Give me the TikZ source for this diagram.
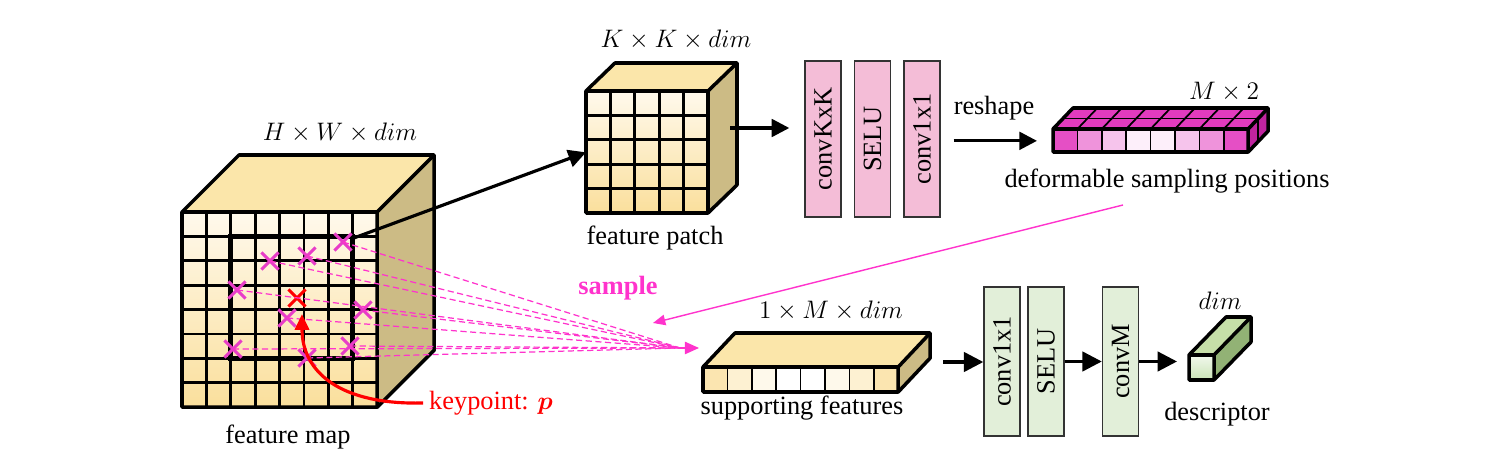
\documentclass[tikz,border=0pt]{standalone}
\usepackage{fontspec}
\setmainfont{Liberation Serif}
\usepackage{amssymb}
\usepackage{amsmath}
\usetikzlibrary{arrows.meta,shapes.misc,calc}

\definecolor{cubetop}{HTML}{FBE6AA}
\definecolor{cubeside}{HTML}{CCBB85}
\definecolor{celllight}{HTML}{FFF9EC}
\definecolor{celldark}{HTML}{FADF9C}
\definecolor{pinkblk}{HTML}{F4BDD7}
\definecolor{greenblk}{HTML}{E2EFD9}
\definecolor{mag}{HTML}{FF33CC}
\definecolor{magx}{HTML}{E83DC8}
\definecolor{magbar}{HTML}{E23BBE}
\definecolor{magside}{HTML}{C0249F}
\definecolor{desctop}{HTML}{C6DFA8}
\definecolor{descside}{HTML}{92B275}
\definecolor{descfront}{HTML}{C9E3B5}

\tikzset{
  edge/.style={line width=2pt, line join=round},
  gridline/.style={line width=1.5pt},
  bigarrow/.style={line width=1.8pt, -{Triangle[length=10pt,width=10pt]}},
  greenarrow/.style={line width=1.8pt, -{Triangle[length=11pt,width=11pt]}},
  smallarrow/.style={mag, line width=0.8pt, -{Triangle[length=7pt,width=6pt]}},
  sampleline/.style={mag, line width=0.7pt, dash pattern=on 3.5pt off 2pt},
  xmark/.style={cross out, draw=magx, line width=1.8pt, minimum size=0.28cm, inner sep=0pt},
  layer/.style={draw=black!80, line width=0.8pt, minimum width=0.72cm, inner sep=0pt},
}

\begin{document}
\begin{tikzpicture}[x=0.02cm, y=-0.02cm, font=\fontsize{15}{18}\selectfont]
\useasboundingbox (0,0) rectangle (1502,462);

% feature map
\fill[cubetop] (182,212) -- (239,155) -- (434.2,155) -- (377.2,212) -- cycle;
\fill[cubeside] (377.2,212) -- (434.2,155) -- (434.2,350.2) -- (377.2,407.2) -- cycle;
\node[anchor=north west, minimum size=3.904cm, inner sep=0pt, top color=celllight, bottom color=celldark] (fmap) at (182,212) {};
\foreach \i in {1,...,7} {
  \draw[gridline] ({182+\i*24.4},212) -- ({182+\i*24.4},407.2);
  \draw[gridline] (182,{212+\i*24.4}) -- (377.2,{212+\i*24.4});
}
\draw[edge] (182,212) -- (239,155) -- (434.2,155) -- (434.2,350.2) -- (377.2,407.2) -- (182,407.2) -- cycle;
\draw[edge] (182,212) -- (377.2,212) -- (434.2,155) (377.2,212) -- (377.2,407.2);
\draw[line width=3pt] (230.8,236.4) rectangle (352.8,358.4);
\node (fmapsz) at (340,133) {$H \times W \times dim$};
\node (fmaplbl) at (288,437) {feature map};

% sampling positions
\foreach \n/\x/\y in {1/343/242, 2/270/261, 3/307/256, 4/237/290, 5/363/310,
                      6/287/318, 7/233/349, 8/350/346, 9/307/358}
  \node[xmark] (s\n) at (\x,\y) {};
\node[xmark, draw=red] (kp) at (297,298) {};
\coordinate (meet) at (680,348);
\coordinate (supin) at (699,348);
\foreach \n in {1,...,9}
  \draw[sampleline] (s\n.center) -- (meet);
\draw[mag, line width=0.8pt, -{Triangle[length=8pt,width=7pt]}] (meet) -- (supin);
\node[mag, font=\fontsize{15}{18}\selectfont\bfseries] (samplbl) at (618,288) {sample};

% keypoint
\node[red] (kplbl) at (491,403) {keypoint: $\boldsymbol{p}$};
\draw[red, line width=1.8pt, -{Triangle[length=9pt,width=8pt]}] (kplbl.west) .. controls (340,405) and (302,372) .. ($(kp)+(5,16)$);

% feature patch
\fill[cubetop] (586,91) -- (615,63) -- (737,63) -- (708,91) -- cycle;
\fill[cubeside] (708,91) -- (737,63) -- (737,185) -- (708,213) -- cycle;
\node[anchor=north west, minimum size=2.44cm, inner sep=0pt, top color=celllight, bottom color=celldark] (patch) at (586,91) {};
\foreach \i in {1,...,4} {
  \draw[gridline] ({586+\i*24.4},91) -- ({586+\i*24.4},213);
  \draw[gridline] (586,{91+\i*24.4}) -- (708,{91+\i*24.4});
}
\draw[edge] (586,91) -- (615,63) -- (737,63) -- (737,185) -- (708,213) -- (586,213) -- cycle;
\draw[edge] (586,91) -- (708,91) -- (737,63) (708,91) -- (708,213);
\node (patchsz) at (676,40) {$K \times K \times dim$};
\node (patchlbl) at (655,238) {feature patch};
\draw[bigarrow] (s1) -- (patch.west);

% offset branch
\node[layer, fill=pinkblk, minimum height=3.12cm] (ckk) at (823,139) {\rotatebox{90}{convKxK}};
\node[layer, fill=pinkblk, minimum height=3.12cm] (selua) at (872.5,139) {\rotatebox{90}{SELU}};
\node[layer, fill=pinkblk, minimum height=3.12cm] (conva) at (922,139) {\rotatebox{90}{conv1x1}};
\coordinate (patchout) at (730,128);
\draw[bigarrow, shorten >=0.3cm] (patchout) -- (patchout -| ckk.west);

% deformable sampling positions
\fill[magbar] (1053,129) -- (1073,108) -- (1268.2,108) -- (1248.2,129) -- cycle;
\fill[magside] (1248.2,129) -- (1268.2,108) -- (1268.2,131) -- (1248.2,152) -- cycle;
\foreach \i/\m in {0/90,1/55,2/30,3/8,4/8,5/30,6/55,7/90}
  \fill[magbar!\m!white] ({1053+\i*24.4},129) rectangle ({1053+(\i+1)*24.4},152);
\foreach \i in {1,...,7} {
  \draw[line width=1pt] ({1053+\i*24.4},129) -- ({1053+\i*24.4},152);
  \draw[line width=1pt] ({1053+\i*24.4},129) -- ({1073+\i*24.4},108);
}
\draw[line width=1pt] (1063,118.5) -- (1258.2,118.5) -- (1258.2,141.5);
\node[anchor=north west, minimum width=3.904cm, minimum height=0.46cm, inner sep=0pt] (dsp) at (1053,129) {};
\draw[edge] (1053,129) -- (1073,108) -- (1268.2,108) -- (1268.2,131) -- (1248.2,152) -- (1053,152) -- cycle;
\draw[edge] (1053,129) -- (1248.2,129) -- (1268.2,108) (1248.2,129) -- (1248.2,152);
\node (dspsz) at (1224,92) {$M \times 2$};
\node (dsplbl) at (1167,181) {deformable sampling positions};
\node (reshape) at (994,108) {reshape};
\draw[bigarrow, shorten <=0.26cm, shorten >=0.32cm] (conva.east |- dsp.west) -- (dsp.west);
\coordinate (dspout) at (1123,205);
\coordinate (sampin) at (653,323);
\draw[smallarrow] (dspout) -- (sampin);

% supporting features
\fill[cubetop] (703,367) -- (735,333) -- (930.2,333) -- (898.2,367) -- cycle;
\fill[cubeside] (898.2,367) -- (930.2,333) -- (930.2,358) -- (898.2,392) -- cycle;
\foreach \i/\m in {0/80,1/45,2/20,3/0,4/0,5/20,6/45,7/80}
  \fill[celldark!\m!white] ({703+\i*24.4},367) rectangle ({703+(\i+1)*24.4},392);
\foreach \i in {1,...,7}
  \draw[line width=1pt] ({703+\i*24.4},367) -- ({703+\i*24.4},392);
\node[anchor=north west, minimum width=3.904cm, minimum height=0.5cm, inner sep=0pt] (sup) at (703,367) {};
\draw[edge] (703,367) -- (735,333) -- (930.2,333) -- (930.2,358) -- (898.2,392) -- (703,392) -- cycle;
\draw[edge] (703,367) -- (898.2,367) -- (930.2,333) (898.2,367) -- (898.2,392);
\node (supsz) at (831,311) {$1 \times M \times dim$};
\node (suplbl) at (802,408) {supporting features};

% descriptor branch
\node[layer, fill=greenblk, minimum height=2.98cm] (convb) at (1002,361.5) {\rotatebox{90}{conv1x1}};
\node[layer, fill=greenblk, minimum height=2.98cm] (selub) at (1046,361.5) {\rotatebox{90}{SELU}};
\node[layer, fill=greenblk, minimum height=2.98cm] (convm) at (1120.5,361.5) {\rotatebox{90}{convM}};
\coordinate (supout) at (943,362);
\draw[greenarrow] (supout) -- (supout -| convb.west);
\draw[greenarrow] (selub.east) -- (convm.west);

% descriptor
\fill[desctop] (1189,355) -- (1226,317) -- (1251,317) -- (1214,355) -- cycle;
\fill[descside] (1214,355) -- (1251,317) -- (1251,342) -- (1214,380) -- cycle;
\node[anchor=north west, minimum size=0.5cm, inner sep=0pt, top color=white!75!descfront, bottom color=descfront] (desc) at (1189,355) {};
\draw[edge] (1189,355) -- (1226,317) -- (1251,317) -- (1251,342) -- (1214,380) -- (1189,380) -- cycle;
\draw[edge] (1189,355) -- (1214,355) -- (1251,317) (1214,355) -- (1214,380);
\node (descsz) at (1220,301) {$dim$};
\node (desclbl) at (1217,414) {descriptor};
\draw[greenarrow, shorten >=0.24cm] (convm.east) -- (convm.east -| desc.west);
\end{tikzpicture}
\end{document}
